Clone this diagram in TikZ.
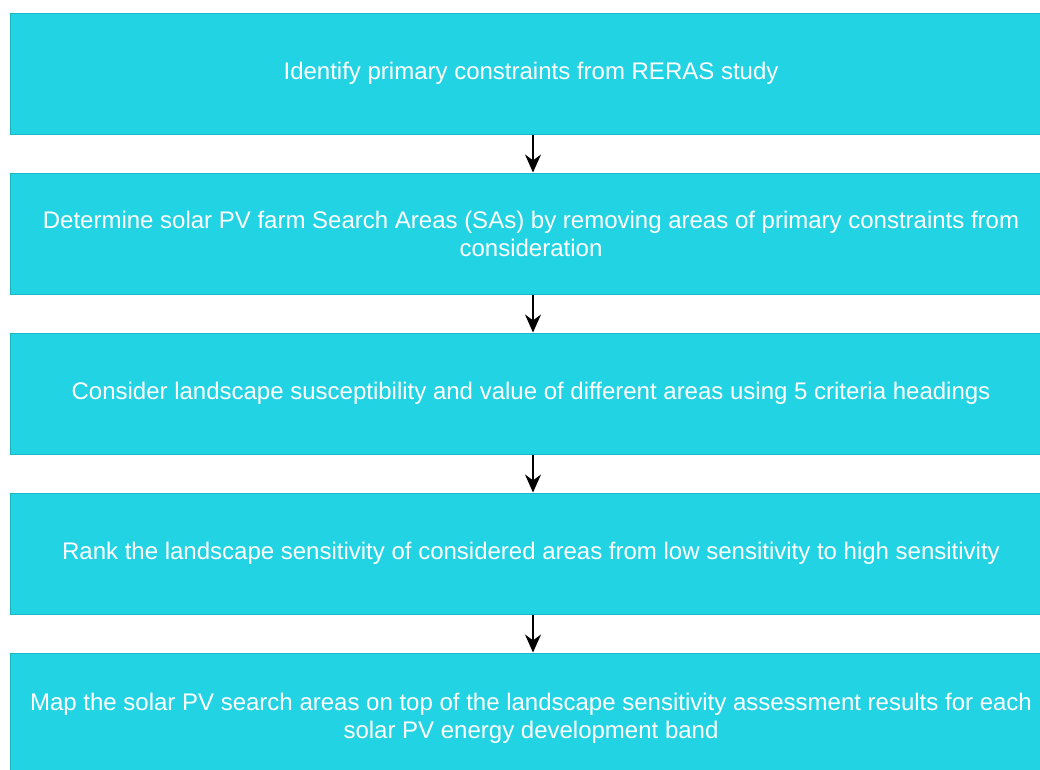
\documentclass[tikz,border=0pt]{standalone}
\usepackage{fontspec}
\setmainfont{Liberation Sans}
\usetikzlibrary{arrows.meta,positioning}
\definecolor{boxcyan}{RGB}{34,211,228}
\definecolor{boxedge}{RGB}{28,182,198}

\begin{document}
\begin{tikzpicture}[
    x=1pt, y=-1pt,
    >={Stealth[length=18pt,width=16pt]},
    stage/.style={rectangle, draw=boxedge, fill=boxcyan, line width=1pt, minimum width=1042pt, minimum height=121pt, inner sep=0pt, align=center, text=white, font=\fontsize{24}{28}\selectfont},
    flow/.style={->, line width=1.6pt, black}
]
\useasboundingbox (0,0) rectangle (1040,769);

% Five stacked stages
\node[stage] (s1) at (531, 73.5) {Identify primary constraints from RERAS study};
\node[stage] (s2) at (531, 233.5) {Determine solar PV farm Search Areas (SAs) by removing areas of primary constraints from\\ consideration};
\node[stage] (s3) at (531, 393.5) {Consider landscape susceptibility and value of different areas using 5 criteria headings};
\node[stage] (s4) at (531, 553.5) {Rank the landscape sensitivity of considered areas from low sensitivity to high sensitivity};
\node[stage, minimum height=130pt] (s5) at (531, 718) {Map the solar PV search areas on top of the landscape sensitivity assessment results for each\\ solar PV energy development band};

% Connections
\draw[flow] ([xshift=2pt]s1.south) -- ([xshift=2pt]s2.north);
\draw[flow] ([xshift=2pt]s2.south) -- ([xshift=2pt]s3.north);
\draw[flow] ([xshift=2pt]s3.south) -- ([xshift=2pt]s4.north);
\draw[flow] ([xshift=2pt]s4.south) -- ([xshift=2pt]s5.north);

\end{tikzpicture}
\end{document}
